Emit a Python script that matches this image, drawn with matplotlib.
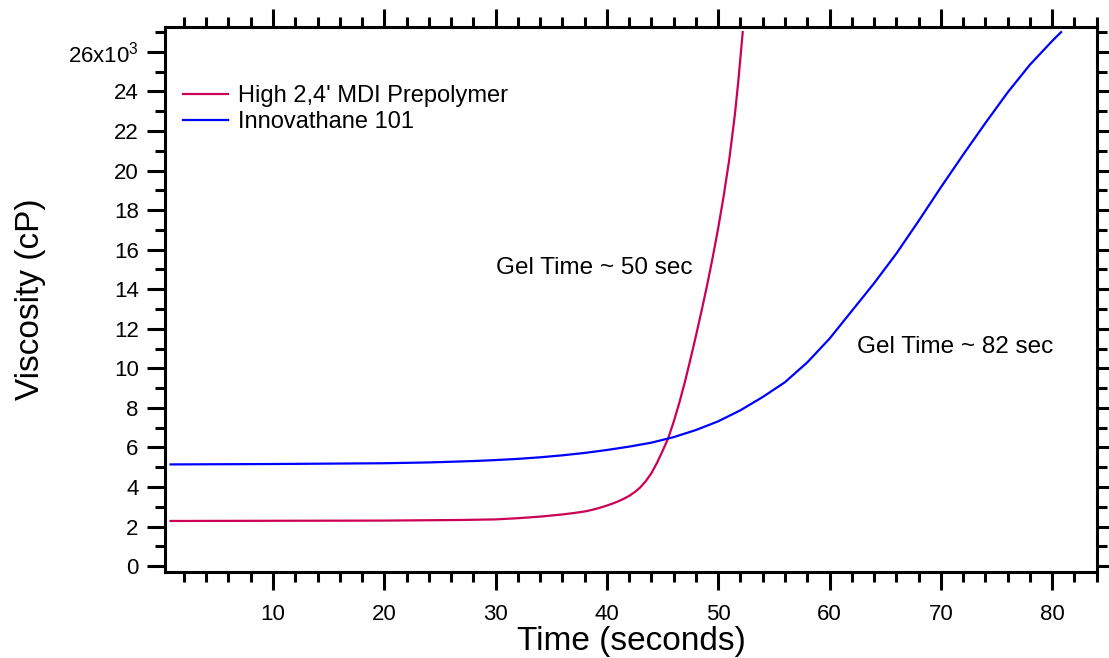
import numpy as np
import matplotlib
matplotlib.use("Agg")
import matplotlib.pyplot as plt
from matplotlib.ticker import MultipleLocator, FuncFormatter

plt.rcParams['font.family'] = ['Liberation Sans', 'DejaVu Sans']
plt.rcParams['mathtext.fontset'] = 'custom'
plt.rcParams['mathtext.rm'] = 'Liberation Sans'
plt.rcParams['mathtext.it'] = 'Liberation Sans'

# High 2,4' MDI prepolymer (time s, viscosity x1000 cP)
t_mdi = [0.8, 10, 20, 26.8, 30, 32, 34, 36, 37, 38, 38.5, 39, 39.5, 40,
         40.5, 41, 41.5, 42, 42.5, 43, 43.5, 44, 44.5, 45, 45.5, 46, 46.5,
         47, 47.5, 48, 48.5, 49, 49.5, 50, 50.5, 51, 51.5, 51.8, 52.2]
v_mdi = [2.28, 2.29, 2.30, 2.33, 2.36, 2.42, 2.50, 2.61, 2.68, 2.76, 2.82,
         2.89, 2.97, 3.06, 3.16, 3.27, 3.40, 3.55, 3.74, 3.98, 4.30, 4.70,
         5.22, 5.82, 6.46, 7.30, 8.25, 9.30, 10.45, 11.65, 12.90, 14.20,
         15.60, 17.10, 18.75, 20.60, 22.85, 24.50, 27.0]

# Innovathane 101
t_inn = [0.8, 10, 20, 24, 28, 30, 32, 34, 36, 38, 40, 42, 44, 46, 48, 50,
         52, 54, 56, 58, 60, 62, 64, 66, 68, 70, 72, 74, 76, 78, 80, 80.8]
v_inn = [5.14, 5.16, 5.20, 5.24, 5.31, 5.36, 5.42, 5.50, 5.60, 5.72, 5.87,
         6.04, 6.24, 6.52, 6.88, 7.32, 7.88, 8.55, 9.30, 10.3, 11.5, 12.9,
         14.3, 15.8, 17.45, 19.15, 20.8, 22.4, 23.95, 25.35, 26.55, 27.0]

labels = ["High 2,4' MDI Prepolymer", "Innovathane 101"]
notes = ["Gel Time ~ 50 sec", "Gel Time ~ 82 sec"]
note_pos = [(30.0, 15.07), (62.5, 11.08)]


def ylab(v, pos):
    if abs(v - 26) < 1e-6:
        return r'26x10$^{3}$'
    return '%d' % v


fig = plt.figure(figsize=(11.09, 6.58), dpi=100)
ax = fig.add_axes([0.1488, 0.1307, 0.9892 - 0.1488, 0.959 - 0.1307])

ax.plot(t_mdi, v_mdi, color='#cc0055', lw=1.6, label=labels[0])
ax.plot(t_inn, v_inn, color='#0000ff', lw=1.6, label=labels[1])

for txt, (x, y) in zip(notes, note_pos):
    ax.text(x, y, txt, fontsize=17.5, va='center', ha='left')

ax.set_xlim(0.3, 84.03)
ax.set_ylim(-0.3, 27.26)
ax.xaxis.set_major_locator(MultipleLocator(10))
ax.xaxis.set_minor_locator(MultipleLocator(2))
ax.yaxis.set_major_locator(MultipleLocator(2))
ax.yaxis.set_minor_locator(MultipleLocator(1))
ax.yaxis.set_major_formatter(FuncFormatter(ylab))

for s in ax.spines.values():
    s.set_linewidth(2.2)
ax.tick_params(which='both', direction='out', width=2.2, top=True,
               right=True, labelsize=16)
ax.tick_params(which='major', length=13)
ax.tick_params(which='minor', length=7.2)
ax.tick_params(axis='x', which='major', pad=10)
ax.tick_params(axis='y', which='major', pad=6)

ax.set_xlabel('Time (seconds)', fontsize=24, labelpad=1)
ax.set_ylabel('Viscosity (cP)', fontsize=24, labelpad=16)

ax.legend(loc='upper left', bbox_to_anchor=(0.019, 0.893), frameon=False,
          fontsize=17, handlelength=1.9, handletextpad=0.42,
          labelspacing=0.15, borderpad=0, borderaxespad=0)

fig.savefig('out.png', dpi=100)
